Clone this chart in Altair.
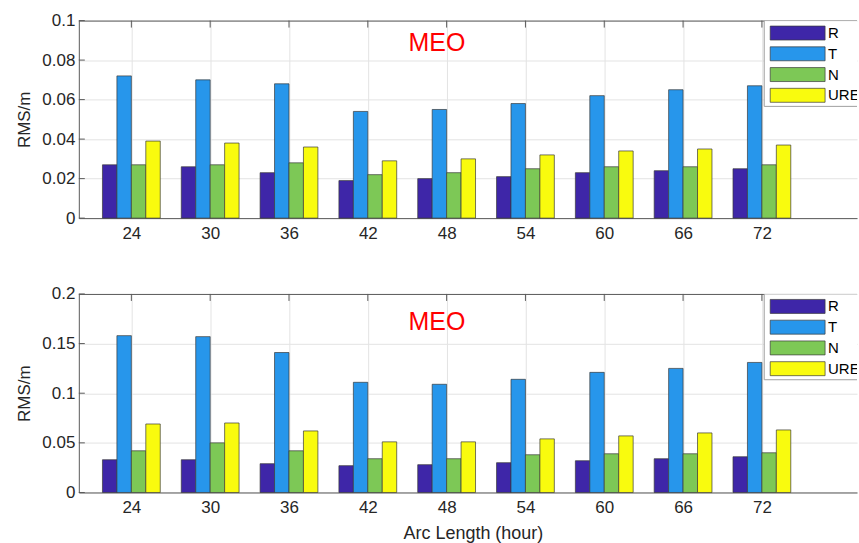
import altair as alt
import pandas as pd

# Arc lengths (hours) and RMS error components (m)
arc_hours = [24, 30, 36, 42, 48, 54, 60, 66, 72]
components = ["R", "T", "N", "URE"]
colors = ["#3e26a8", "#2796eb", "#7dc856", "#f9fb0e"]

upper_R = [0.027, 0.026, 0.023, 0.019, 0.020, 0.021, 0.023, 0.024, 0.025]
upper_T = [0.072, 0.070, 0.068, 0.054, 0.055, 0.058, 0.062, 0.065, 0.067]
upper_N = [0.027, 0.027, 0.028, 0.022, 0.023, 0.025, 0.026, 0.026, 0.027]
upper_URE = [0.039, 0.038, 0.036, 0.029, 0.030, 0.032, 0.034, 0.035, 0.037]

lower_R = [0.033, 0.033, 0.029, 0.027, 0.028, 0.030, 0.032, 0.034, 0.036]
lower_T = [0.158, 0.157, 0.141, 0.111, 0.109, 0.114, 0.121, 0.125, 0.131]
lower_N = [0.042, 0.050, 0.042, 0.034, 0.034, 0.038, 0.039, 0.039, 0.040]
lower_URE = [0.069, 0.070, 0.062, 0.051, 0.051, 0.054, 0.057, 0.060, 0.063]

upper_yticks = [0, 0.02, 0.04, 0.06, 0.08, 0.1]
lower_yticks = [0, 0.05, 0.1, 0.15, 0.2]

FONT = "Liberation Sans"
FRAME = "#5a5a5a"
GRID = "#e3e3e3"
TEXT = "#262626"
W = 780            # plot width in px
BAR_W = 1.1        # bar width in hours
X_MIN = 20
X_MAX = X_MIN + 60 * W / 790


def bar_table(series):
    rows = []
    for k, (name, vals) in enumerate(zip(components, series)):
        for arc, v in zip(arc_hours, vals):
            c = arc + (k - 1.5) * BAR_W
            rows.append({"component": name, "arc": arc, "rms": v,
                         "x0": c - BAR_W / 2, "x1": c + BAR_W / 2, "base": 0.0})
    return pd.DataFrame(rows)


def panel(series, yticks, ymax, height, meo_y, x_title):
    df = bar_table(series)
    x_scale = alt.Scale(domain=[X_MIN, X_MAX], nice=False, zero=False)
    y_scale = alt.Scale(domain=[0, ymax], nice=False)
    color = alt.Color("component:N", legend=None,
                      scale=alt.Scale(domain=components, range=colors))

    x_axis_kw = dict(values=arc_hours, grid=True, ticks=False, labelPadding=7,
                     domainColor=FRAME, gridColor=GRID, labelFlush=False,
                     labelOverlap=False)
    if x_title:
        x_axis_kw.update(title=x_title, titlePadding=9, titleX=395,
                         titleFontSize=18)
    else:
        x_axis_kw.update(title=None)
    x_axis = alt.Axis(**x_axis_kw)
    y_axis = alt.Axis(values=yticks, grid=True, ticks=False, format="~g",
                      labelPadding=4, labelOverlap=False, labelFlush=False,
                      labelBound=False, title="RMS/m", titleX=-45,
                      domainColor=FRAME, gridColor=GRID)

    bars = alt.Chart(df).mark_rect(stroke="#3a3a3a", strokeWidth=0.7).encode(
        x=alt.X("x0:Q", scale=x_scale, axis=x_axis),
        x2="x1:Q",
        y=alt.Y("rms:Q", scale=y_scale, axis=y_axis),
        y2="base:Q",
        color=color,
    )

    one = pd.DataFrame({"k": [0]})

    top_line = alt.Chart(one).mark_rule(color=FRAME, strokeWidth=1).encode(
        x=alt.value(0), x2=alt.value(W), y=alt.value(0.5))

    # short inward ticks along the top edge and the left edge
    top_ticks = alt.Chart(pd.DataFrame({"x0": arc_hours})).mark_rule(
        color=FRAME, strokeWidth=1).encode(
        x=alt.X("x0:Q", scale=x_scale, axis=x_axis),
        y=alt.value(0), y2=alt.value(7))

    left_ticks = alt.Chart(pd.DataFrame({"rms": yticks})).mark_rule(
        color=FRAME, strokeWidth=1).encode(
        y=alt.Y("rms:Q", scale=y_scale, axis=y_axis),
        x=alt.value(0), x2=alt.value(6))

    # legend box in the upper-right corner, cut off by the plot edge
    leg = pd.DataFrame({"component": components, "row": [0, 1, 2, 3]})
    box = alt.Chart(one).mark_rect(fill="white", stroke="#a0a0a0",
                                   strokeWidth=1, clip=True).encode(
        x=alt.value(687), x2=alt.value(830), y=alt.value(0), y2=alt.value(86))

    swatch = alt.Chart(leg).transform_calculate(
        ly0="12.5 + datum.row * 20.8 - 7", ly1="12.5 + datum.row * 20.8 + 7"
    ).mark_rect(stroke="#3a3a3a", strokeWidth=0.7).encode(
        x=alt.value(693), x2=alt.value(748),
        y=alt.Y("ly0:Q", scale=None), y2="ly1:Q",
        color=color)

    leg_text = alt.Chart(leg).transform_calculate(
        ly="12.5 + datum.row * 20.8"
    ).mark_text(align="left", baseline="middle", fontSize=15, font=FONT,
                color="black", clip=True).encode(
        x=alt.value(751), y=alt.Y("ly:Q", scale=None), text="component:N")

    meo = alt.Chart(one).mark_text(text="MEO", color="#ff0000", fontSize=25,
                                   font=FONT, align="center",
                                   baseline="alphabetic").encode(
        x=alt.value(359), y=alt.value(meo_y))

    return alt.layer(bars, top_line, top_ticks, left_ticks, box, swatch,
                     leg_text, meo).properties(width=W, height=height)


upper = panel([upper_R, upper_T, upper_N, upper_URE], upper_yticks, 0.1, 198, 30, None)
lower = panel([lower_R, lower_T, lower_N, lower_URE], lower_yticks, 0.2, 199, 36,
              "Arc Length (hour)")

chart = alt.vconcat(upper, lower, spacing=76, bounds="flush").properties(
    padding={"left": 16, "top": 11, "right": 1, "bottom": 0},
    background="white",
).configure_view(strokeWidth=0).configure_axis(
    labelFont=FONT, titleFont=FONT, labelFontSize=17, titleFontSize=17,
    labelColor=TEXT, titleColor=TEXT, titleFontWeight="normal",
)

chart.save("out.html", embed_options={"renderer": "svg", "actions": False})
